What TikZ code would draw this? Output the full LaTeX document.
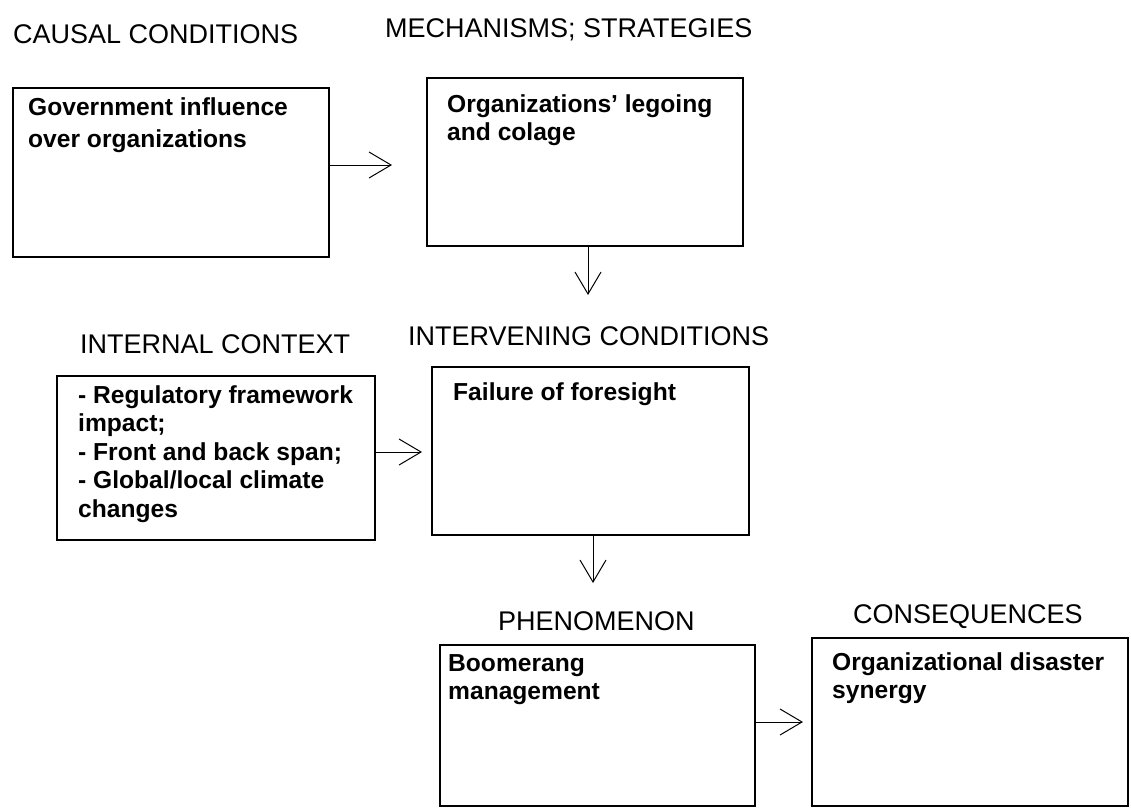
\documentclass[tikz,border=0pt]{standalone}
\usepackage{fontspec}
\setmainfont{Liberation Sans}
\usepackage{tikz}
\usetikzlibrary{arrows.meta,positioning}

\begin{document}
\begin{tikzpicture}[x=1pt,y=-1pt,
  box/.style={draw,line width=1.3pt,anchor=north west,inner sep=0pt,outer sep=0pt},
  head/.style={anchor=base west,inner sep=0pt,font=\fontsize{27}{32}\selectfont},
  txt/.style={anchor=north west,inner sep=0pt,align=left,font=\bfseries\fontsize{24.6}{28.5}\selectfont},
  arr/.style={line width=1pt,-{Straight Barb[length=22pt,width=26pt,line width=1pt]}}]
\useasboundingbox (0,0) rectangle (1131,809);
\node[head] (h1) at (13,43) {CAUSAL CONDITIONS};
\node[head] (h2) at (385,37) {MECHANISMS; STRATEGIES};
\node[head] (h3) at (80,353) {INTERNAL CONTEXT};
\node[head] (h4) at (408,345) {INTERVENING CONDITIONS};
\node[head] (h5) at (498,630) {PHENOMENON};
\node[head] (h6) at (853,623) {CONSEQUENCES};
\node[box,minimum width=316pt,minimum height=169pt] (gov) at (13,88) {};
\node[box,minimum width=316pt,minimum height=168pt] (mech) at (427,78) {};
\node[box,minimum width=318pt,minimum height=164pt] (ctx) at (57,376) {};
\node[box,minimum width=317pt,minimum height=168pt] (fore) at (432,367) {};
\node[box,minimum width=315pt,minimum height=161pt] (boom) at (440,645) {};
\node[box,minimum width=316pt,minimum height=168pt] (cons) at (812,638) {};
\node[txt] (govt) at (28,97) {Government influence\\[3.5pt]over organizations};
\node[txt] (mecht) at (447,94) {Organizations' legoing\\and colage};
\node[txt] (ctxt) at (78,385) {- Regulatory framework\\impact;\\- Front and back span;\\- Global/local climate\\changes};
\node[txt,anchor=base west] (foret) at (453,400) {Failure of foresight};
\node[txt] (boomt) at (448,654) {Boomerang\\management};
\node[txt] (const) at (832,652) {Organizational disaster\\synergy};
\coordinate (t1) at (392,165);\coordinate (t2) at (588,295);\coordinate (t3) at (422,452);
\coordinate (t4) at (593,583);\coordinate (t5) at (803,722);
\draw[arr] (gov.east |- t1)--(t1);\draw[arr] (mech.south -| t2)--(t2);\draw[arr] (ctx.east |- t3)--(t3);
\draw[arr] (fore.south -| t4)--(t4);\draw[arr] (boom.east |- t5)--(t5);
\end{tikzpicture}
\end{document}
